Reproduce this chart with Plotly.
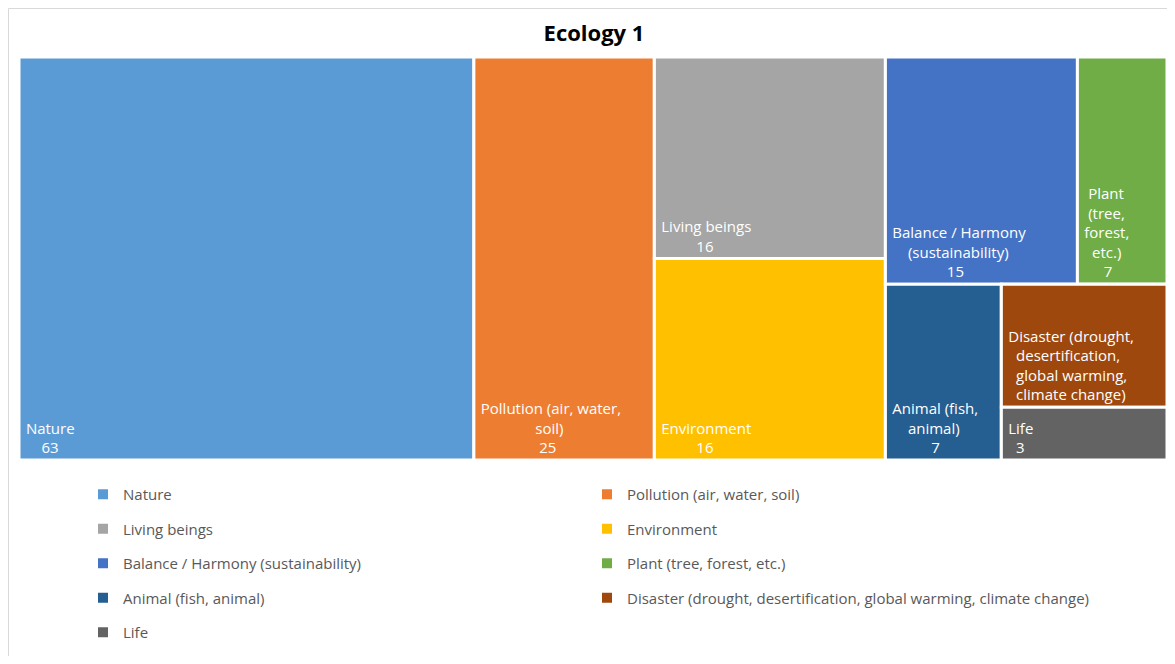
"""
Ecology 1 — treemap de associações (estilo Excel)
"""

import plotly.graph_objects as go

# ── Dados ────────────────────────────────────────────────────────────────────

CATEGORIAS = [
    "Nature",
    "Pollution (air, water, soil)",
    "Living beings",
    "Environment",
    "Balance / Harmony (sustainability)",
    "Plant (tree, forest, etc.)",
    "Animal (fish, animal)",
    "Disaster (drought, desertification, global warming, climate change)",
    "Life",
]
VALORES = [63, 25, 16, 16, 15, 7, 7, 7, 3]

CORES = [
    "#5B9BD5", "#ED7D31", "#A5A5A5", "#FFC000", "#4472C4",
    "#70AD47", "#255E91", "#9E480E", "#636363",
]

# linhas dos rótulos como aparecem dentro dos blocos
LINHAS_BLOCO = [
    ["Nature"],
    ["Pollution (air, water,", "soil)"],
    ["Living beings"],
    ["Environment"],
    ["Balance / Harmony", "(sustainability)"],
    ["Plant", "(tree,", "forest,", "etc.)"],
    ["Animal (fish,", "animal)"],
    ["Disaster (drought,", "desertification,", "global warming,", "climate change)"],
    ["Life"],
]
# o Excel escondeu o valor no bloco "Disaster" (não coube)
MOSTRA_VALOR = [True, True, True, True, True, True, True, False, True]

# agrupamento usado só para reproduzir o arranjo do Excel
GRUPOS = ["g_le", "g_rest", "g_top", "g_bot", "g_dl"]
ORDEM = [
    "Nature", "Pollution (air, water, soil)",
    "g_le", "Living beings", "Environment",
    "g_rest", "g_top", "Balance / Harmony (sustainability)", "Plant (tree, forest, etc.)",
    "g_bot", "Animal (fish, animal)",
    "g_dl", "Disaster (drought, desertification, global warming, climate change)", "Life",
]
PAIS = [
    "", "",
    "", "g_le", "g_le",
    "", "g_rest", "g_top", "g_top",
    "g_rest", "g_bot",
    "g_bot", "g_dl", "g_dl",
]

FONTE = "Open Sans"
# a página tem 8 px de margem no <body>; a figura ocupa o resto da janela
OFF = 8
W, H = 1175 - 2 * OFF, 664 - 2 * OFF
NBSP = "&nbsp;"


def px(x):  # coordenada horizontal da janela -> fração do papel
    return (x - OFF) / W


def py(y):  # coordenada vertical da janela -> fração do papel
    return 1 - (y - OFF) / H

# ── Rótulos centralizados (aprox.) ───────────────────────────────────────────

LARG = {
    "i": .25, "l": .25, "j": .25, ".": .27, ",": .27, "(": .3, ")": .3,
    "/": .37, " ": .26, "t": .34, "f": .32, "r": .4, "s": .48, "c": .48,
    "m": .86, "w": .75, "M": .9, "W": .95, "g": .55,
}


def largura(s: str) -> float:
    return sum(LARG.get(ch, 0.57) for ch in s)


def centralizar(linhas: list[str], valor: str | None) -> str:
    todas = linhas + ([valor] if valor is not None else [])
    maior = max(largura(s) for s in todas)

    def pad(s):
        return NBSP * (1 + round((maior - largura(s)) / 2 / 0.26))

    saida = [pad(s) + s for s in linhas]
    if valor is not None:
        saida.append(pad(valor) + "%{value}")
    return "<br>".join(saida)


def montar_nos():
    info = {c: i for i, c in enumerate(CATEGORIAS)}
    valores, cores, templates = [], [], []
    for no in ORDEM:
        if no in GRUPOS:
            valores.append(0)
            cores.append("white")
            templates.append("")
            continue
        i = info[no]
        valores.append(VALORES[i])
        cores.append(CORES[i])
        val = str(VALORES[i]) if MOSTRA_VALOR[i] else None
        templates.append(centralizar(LINHAS_BLOCO[i], val))
    return valores, cores, templates

# ── Figura ───────────────────────────────────────────────────────────────────

valores, cores, templates = montar_nos()

fig = go.Figure()

fig.add_trace(go.Treemap(
    ids=ORDEM,
    labels=[("" if n in GRUPOS else n) for n in ORDEM],
    parents=PAIS,
    values=valores,
    branchvalues="remainder",
    texttemplate=templates,
    textinfo="none",
    textposition="bottom left",
    textfont=dict(family=FONTE, size=15, color="white"),
    marker=dict(
        colors=cores,
        line=dict(color="white", width=3),
        pad=dict(t=0, l=0, r=0, b=0),
    ),
    tiling=dict(packing="slice-dice", pad=0),
    pathbar=dict(visible=False),
    sort=False,
    domain=dict(x=[px(19), min(px(1169), 1.0)], y=[py(460), py(57)]),
    hovertemplate="%{label}: %{value}<extra></extra>",
))

# legenda em duas colunas (traços vazios só para as entradas)
for i, (nome, cor) in enumerate(zip(CATEGORIAS, CORES)):
    fig.add_trace(go.Scatter(
        x=[None], y=[None],
        mode="markers",
        marker=dict(symbol="square", size=10, color=cor),
        name=nome,
        legend="legend" if i % 2 == 0 else "legend2",
        legendgroup=nome,
    ))

leg_comum = dict(
    font=dict(family=FONTE, size=15, color="#595959"),
    bgcolor="rgba(0,0,0,0)",
    tracegroupgap=12,
    yanchor="top",
    xanchor="left",
    itemclick=False,
    itemdoubleclick=False,
)

fig.update_layout(
    width=W, height=H,
    title=dict(
        text="<b>Ecology 1</b>",
        x=px(594), xanchor="center",
        y=py(33), yanchor="middle",
        font=dict(family=FONTE, size=22, color="black"),
    ),
    margin=dict(t=0, b=0, l=0, r=0, autoexpand=False),
    paper_bgcolor="white",
    plot_bgcolor="white",
    xaxis=dict(visible=False),
    yaxis=dict(visible=False),
    legend=dict(x=px(83), y=py(478), **leg_comum),
    legend2=dict(x=px(587), y=py(478), **leg_comum),
    shapes=[dict(
        type="rect", xref="paper", yref="paper",
        x0=0.5 / W, x1=1.01, y0=-0.01, y1=1 - 0.5 / H,
        line=dict(color="#D9D9D9", width=1),
        fillcolor="rgba(0,0,0,0)", layer="below",
    )],
)

fig.write_html("out.html")
